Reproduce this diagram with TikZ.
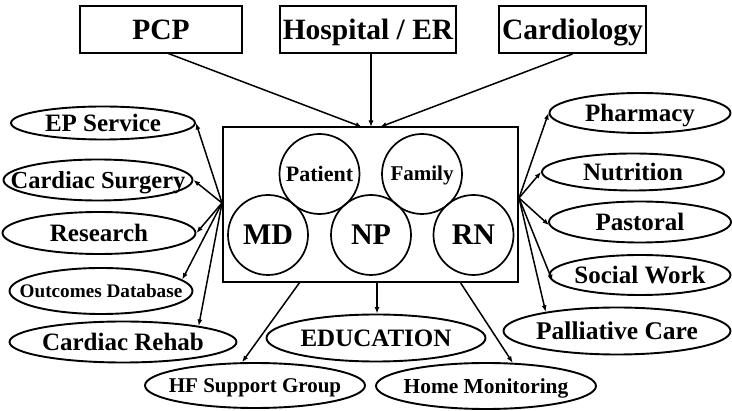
\documentclass[tikz,border=0pt]{standalone}
\usepackage{fontspec}
\setmainfont{Liberation Serif}
\usetikzlibrary{shapes.geometric,arrows.meta,calc}
\begin{document}
\begin{tikzpicture}[x=1pt,y=-1pt,
  topbox/.style={draw,line width=2pt,inner sep=0pt,text height=19.5pt,text depth=0pt,font=\fontsize{29.5}{32}\selectfont\bfseries},
  ell/.style={draw,ellipse,line width=1.9pt,inner sep=0pt},
  lbl/.style 2 args={inner sep=0pt,text height=#2,text depth=0pt,font=\fontsize{#1}{28}\selectfont\bfseries},
  circ/.style={draw,circle,line width=1.7pt,inner sep=0pt,minimum size=80pt,text depth=0pt},
  conn/.style={line width=1.5pt,-{Latex[length=6.5pt,width=5pt]}}]
\useasboundingbox (0,0) rectangle (732,411);
% top boxes
\node[topbox,minimum width=162pt,minimum height=47pt] (pcp) at (161,29.5) {PCP};
\node[topbox,minimum width=176pt,minimum height=47pt] (hosp) at (368,29.5) {Hospital / ER};
\node[topbox,minimum width=147pt,minimum height=47pt] (card) at (572.5,29.5) {Cardiology};
% central box
\node[draw,line width=2pt,minimum width=295pt,minimum height=155pt,inner sep=0pt] (box) at (370.5,204.5) {};
% circles
\node[circ,text height=14.5pt,font=\fontsize{22}{24}\selectfont\bfseries] (pat) at (319.5,174) {Patient};
\node[circ,text height=13.9pt,font=\fontsize{21}{24}\selectfont\bfseries] (fam) at (422,174) {Family};
\node[circ,text height=19.8pt,font=\fontsize{30}{32}\selectfont\bfseries] (md) at (268,235) {MD};
\node[circ,text height=19.8pt,font=\fontsize{30}{32}\selectfont\bfseries] (np) at (371,235) {NP};
\node[circ,text height=19.8pt,font=\fontsize{30}{32}\selectfont\bfseries] (rn) at (473.5,235) {RN};
% left ellipses
\node[ell,minimum width=184pt,minimum height=33pt,label={[lbl={25}{16.5pt}]center:EP Service}] (ep) at (103,123) {};
\node[ell,minimum width=189pt,minimum height=41pt,label={[lbl={24.5}{16.2pt}]center:Cardiac Surgery}] (cs) at (98,180) {};
\node[ell,minimum width=193pt,minimum height=42pt,label={[lbl={25}{16.5pt}]center:Research}] (res) at (99,233) {};
\node[ell,minimum width=183pt,minimum height=46pt,label={[lbl={19.2}{12.7pt}]center:Outcomes Database}] (out) at (101,291) {};
\node[ell,minimum width=227pt,minimum height=41pt,label={[lbl={25}{16.5pt}]center:Cardiac Rehab}] (rehab) at (123,342) {};
% bottom ellipses
\node[ell,minimum width=220pt,minimum height=45pt,label={[lbl={21}{13.9pt}]center:HF Support Group}] (hf) at (255,385.5) {};
\node[ell,minimum width=219pt,minimum height=47pt,label={[lbl={25}{16.5pt}]center:EDUCATION}] (edu) at (376,338) {};
\node[ell,minimum width=220pt,minimum height=46pt,label={[lbl={21.4}{14.1pt}]center:Home Monitoring}] (home) at (486,386) {};
% right ellipses
\node[ell,minimum width=181pt,minimum height=40pt,label={[lbl={25}{16.5pt}]center:Pharmacy}] (pharm) at (640,113) {};
\node[ell,minimum width=182pt,minimum height=37pt,label={[lbl={25}{16.5pt}]center:Nutrition}] (nut) at (633,172) {};
\node[ell,minimum width=182pt,minimum height=41pt,label={[lbl={25}{16.5pt}]center:Pastoral}] (past) at (640,222) {};
\node[ell,minimum width=181pt,minimum height=40pt,label={[lbl={25}{16.5pt}]center:Social Work}] (soc) at (640,275) {};
\node[ell,minimum width=227pt,minimum height=47pt,label={[lbl={25.5}{16.8pt}]center:Palliative Care}] (pall) at (617,331) {};
% connector end points on the central box
\coordinate (lc) at (222,203);
\coordinate (rc) at (519,198);
\coordinate (t1) at (362,127);
\coordinate (t2) at (371,127);
\coordinate (t3) at (380,127);
\coordinate (b1) at (300,282);
\coordinate (b2) at (377,282);
\coordinate (b3) at (460,282);
\coordinate (p1) at (167,53);
% top connectors
\draw[conn] (p1) -- (t1);
\draw[conn] (hosp.south -| t2) -- (t2);
\draw[conn] (card.south) -- (t3);
% left connectors
\draw[conn] (lc) -- (ep.east);
\draw[conn] (lc) -- (cs.east);
\draw[conn] (lc) -- (res.east);
\draw[conn] (lc) -- (out.8);
\draw[conn] (lc) -- (rehab.12);
% right connectors
\draw[conn] (rc) -- (pharm.west);
\draw[conn] (rc) -- (nut.west);
\draw[conn] (rc) -- (past.182);
\draw[conn] (rc) -- (soc.184);
\draw[conn] (rc) -- (pall.165);
% bottom connectors
\draw[conn] (b1) -- (hf.119);
\draw[conn] (b2) -- (edu.north -| b2);
\draw[conn] (b3) -- (home.41);
\end{tikzpicture}
\end{document}
